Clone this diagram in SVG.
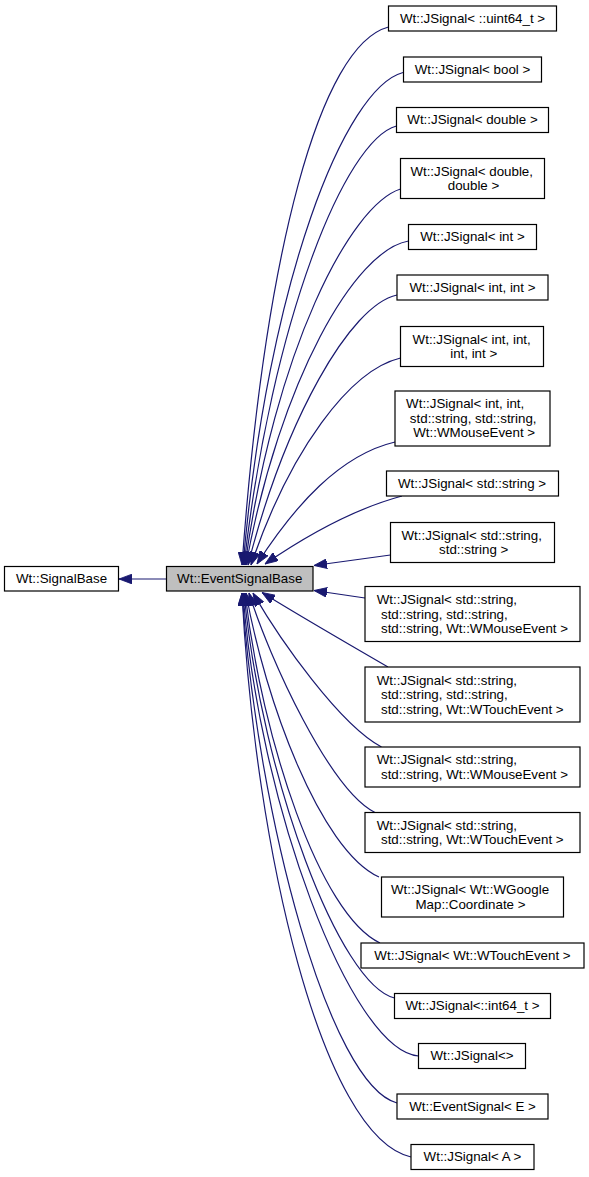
<svg xmlns="http://www.w3.org/2000/svg" width="589" height="1177" viewBox="0 0 589 1177">
<style>
.n rect{fill:#fff;stroke:#000;stroke-width:1.2}
.n text{font-family:"Liberation Sans",Arial,sans-serif;font-size:13.33px;fill:#000}
.m{text-anchor:middle}
.e path{fill:none;stroke:#191970;stroke-width:1.2;marker-end:url(#ah)}
</style>
<defs>
<marker id="ah" markerUnits="userSpaceOnUse" markerWidth="13" markerHeight="10" viewBox="0 0 12 9" refX="12" refY="4.5" orient="auto">
<path d="M0,0 L12,4.5 L0,9 z" fill="#191970" stroke="#191970" stroke-width="0.8"/>
</marker>
</defs>
<rect width="589" height="1177" fill="#fff"/>
<g class="e" id="edges">
<path d="M166.5,579 L119,579"/>
<path d="M388.5,27 C320,45 265,250 242,565"/>
<path d="M403,72.5 C345,88 268,280 243,565"/>
<path d="M396.5,126 C345,140 272,320 244,565"/>
<path d="M400.5,189 C350,205 275,350 245,565"/>
<path d="M408.5,241 C355,250 280,380 246,565"/>
<path d="M397,295 C350,305 285,420 248,565"/>
<path d="M400.5,358 C350,370 290,450 251,565"/>
<path d="M395,442 C340,455 295,505 257,564"/>
<path d="M402,496 C350,510 300,540 265,564"/>
<path d="M390.5,555 L314,565.5"/>
<path d="M365,598 L314,590.5"/>
<path d="M388,667 C350,645 290,610 262,592.5"/>
<path d="M381.5,747 C340,725 280,640 253,593"/>
<path d="M375,812.5 C330,790 270,660 249,593"/>
<path d="M379,877 C320,850 265,700 246,593"/>
<path d="M380,943 C320,915 262,740 245,593"/>
<path d="M394.5,998 C340,985 262,780 244,593"/>
<path d="M418.5,1056 C350,1050 258,800 243,593"/>
<path d="M397,1103 C330,1085 258,820 242,593"/>
<path d="M411,1157 C322,1137 255,850 242,593"/>
</g>
<g class="n" id="SignalBase"><rect x="4.5" y="566.5" width="114" height="24.5"/><text class="m" x="61.5" y="583">Wt::SignalBase</text></g>
<g class="n" id="EventSignalBase"><rect x="166.5" y="566.5" width="146.5" height="24.5" style="fill:#bfbfbf"/><text class="m" x="239.7" y="583">Wt::EventSignalBase</text></g>
<g class="n" id="n1"><rect x="388.5" y="6" width="168" height="25"/><text class="m" x="472.5" y="22.5">Wt::JSignal&lt; ::uint64_t &gt;</text></g>
<g class="n" id="n2"><rect x="403.5" y="57" width="138" height="25"/><text class="m" x="472.5" y="73.5">Wt::JSignal&lt; bool &gt;</text></g>
<g class="n" id="n3"><rect x="396.5" y="107.5" width="152" height="25"/><text class="m" x="472.5" y="124">Wt::JSignal&lt; double &gt;</text></g>
<g class="n" id="n4"><rect x="400.5" y="158.5" width="144" height="40"/><text class="m" x="471.7" y="175.8">Wt::JSignal&lt; double,</text><text class="m" x="473.5" y="190.3">double &gt;</text></g>
<g class="n" id="n5"><rect x="408.5" y="224.5" width="128" height="25"/><text class="m" x="472.5" y="241">Wt::JSignal&lt; int &gt;</text></g>
<g class="n" id="n6"><rect x="397" y="275" width="151" height="25"/><text class="m" x="472.5" y="291.5">Wt::JSignal&lt; int, int &gt;</text></g>
<g class="n" id="n7"><rect x="400.5" y="326.5" width="143" height="40"/><text class="m" x="471.7" y="343.8">Wt::JSignal&lt; int, int,</text><text class="m" x="473.7" y="358.3">int, int &gt;</text></g>
<g class="n" id="n8"><rect x="395" y="391" width="155" height="55"/><text class="m" x="465.2" y="408">Wt::JSignal&lt; int, int,</text><text class="m" x="473.2" y="422.5">std::string, std::string,</text><text class="m" x="474.2" y="437">Wt::WMouseEvent &gt;</text></g>
<g class="n" id="n9"><rect x="386.5" y="471" width="172" height="25"/><text class="m" x="472" y="487.5">Wt::JSignal&lt; std::string &gt;</text></g>
<g class="n" id="n10"><rect x="390.5" y="522.5" width="164" height="40"/><text class="m" x="471.7" y="539.8">Wt::JSignal&lt; std::string,</text><text class="m" x="473.7" y="554.3">std::string &gt;</text></g>
<g class="n" id="n11"><rect x="365" y="586.5" width="215" height="55"/><text x="376.7" y="604">Wt::JSignal&lt; std::string,</text><text x="381" y="618.5">std::string, std::string,</text><text x="381" y="633">std::string, Wt::WMouseEvent &gt;</text></g>
<g class="n" id="n12"><rect x="365" y="667" width="215" height="55"/><text x="376.7" y="684.5">Wt::JSignal&lt; std::string,</text><text x="381" y="699">std::string, std::string,</text><text x="381" y="713.5">std::string, Wt::WTouchEvent &gt;</text></g>
<g class="n" id="n13"><rect x="365" y="747" width="215" height="40"/><text x="376.7" y="764.3">Wt::JSignal&lt; std::string,</text><text x="381" y="778.8">std::string, Wt::WMouseEvent &gt;</text></g>
<g class="n" id="n14"><rect x="365" y="812.5" width="215" height="40"/><text x="376.7" y="829.8">Wt::JSignal&lt; std::string,</text><text x="381" y="844.3">std::string, Wt::WTouchEvent &gt;</text></g>
<g class="n" id="n15"><rect x="381.5" y="877" width="182" height="40"/><text class="m" x="470" y="894.3">Wt::JSignal&lt; Wt::WGoogle</text><text class="m" x="470.5" y="908.8">Map::Coordinate &gt;</text></g>
<g class="n" id="n16"><rect x="361" y="943" width="223" height="25"/><text class="m" x="472.5" y="959.5">Wt::JSignal&lt; Wt::WTouchEvent &gt;</text></g>
<g class="n" id="n17"><rect x="394.5" y="993.5" width="156" height="25"/><text class="m" x="472.5" y="1010">Wt::JSignal&lt;::int64_t &gt;</text></g>
<g class="n" id="n18"><rect x="418.5" y="1043.5" width="107" height="25"/><text class="m" x="472" y="1060">Wt::JSignal&lt;&gt;</text></g>
<g class="n" id="n19"><rect x="397" y="1094" width="151" height="25"/><text class="m" x="472.5" y="1110.5">Wt::EventSignal&lt; E &gt;</text></g>
<g class="n" id="n20"><rect x="411" y="1144.5" width="123" height="25"/><text class="m" x="472.5" y="1161">Wt::JSignal&lt; A &gt;</text></g>
</svg>
